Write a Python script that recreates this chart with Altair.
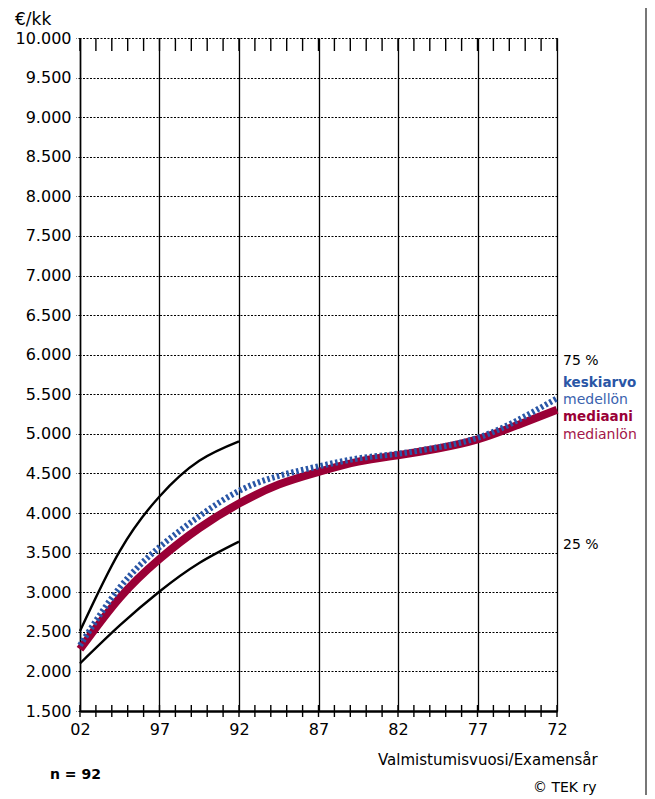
import altair as alt
import pandas as pd

# --- data ---
years_q = [2002, 1999.5, 1997, 1994.5, 1992]
q75 = [2510, 3520, 4210, 4660, 4905]
q25 = [2100, 2580, 3010, 3370, 3640]

years_m = [2002, 1999.5, 1997, 1994.5, 1992, 1989.5, 1987, 1984.5, 1982, 1979.5, 1977, 1974.5, 1972]
mean_vals = [2330, 3060, 3570, 3960, 4280, 4470, 4590, 4690, 4750, 4830, 4950, 5170, 5450]
median_vals = [2280, 2930, 3420, 3810, 4120, 4360, 4520, 4650, 4730, 4815, 4930, 5110, 5305]

major_years = [2002, 1997, 1992, 1987, 1982, 1977, 1972]
minor_years = list(range(1972, 2003))
y_ticks = list(range(1500, 10001, 500))

FONT = "DejaVu Sans"
BLUE = "#2a56a6"
RED = "#9a0036"

W, H = 477, 673

q_df = pd.DataFrame({"year": years_q, "q75": q75, "q25": q25})
m_df = pd.DataFrame({"year": years_m, "mean": mean_vals, "median": median_vals})
minor_df = pd.DataFrame({"year": minor_years})

xscale = alt.Scale(domain=[1972, 2002], reverse=True, nice=False, zero=False)
yscale = alt.Scale(domain=[1500, 10000], nice=False, zero=False)

xaxis = alt.Axis(
    values=major_years,
    tickCount=20,
    labelExpr="slice(toString(datum.value), 2)",
    title=None,
    grid=True,
    gridColor="black",
    gridWidth=1.3,
    gridOpacity=1,
    ticks=False,
    domainColor="black",
    domainWidth=2.5,
    labelFont=FONT,
    labelFontSize=16,
    labelColor="black",
    labelPadding=10,
    labelFlush=False,
    labelOverlap=False,
    labelBound=False,
)
yaxis = alt.Axis(
    values=y_ticks,
    tickCount=40,
    labelExpr="replace(format(datum.value, ','), ',', '.')",
    title=None,
    grid=True,
    gridColor="black",
    gridDash=[2, 1.5],
    gridWidth=1.2,
    gridOpacity=1,
    ticks=True,
    tickColor="black",
    tickDash=[2, 1.5],
    tickSize=4,
    domainColor="black",
    domainWidth=1.5,
    labelFont=FONT,
    labelFontSize=16,
    labelColor="black",
    labelPadding=5,
    labelFlush=False,
    labelOverlap=False,
    labelBound=False,
)

base_axes = alt.Chart(m_df).mark_line(opacity=0).encode(
    x=alt.X("year:Q", scale=xscale, axis=xaxis),
    y=alt.Y("median:Q", scale=yscale, axis=yaxis),
)

q75_line = alt.Chart(q_df).mark_line(color="black", strokeWidth=2.4, interpolate="natural").encode(
    x=alt.X("year:Q", scale=xscale), y=alt.Y("q75:Q", scale=yscale)
)
q25_line = alt.Chart(q_df).mark_line(color="black", strokeWidth=2.4, interpolate="natural").encode(
    x=alt.X("year:Q", scale=xscale), y=alt.Y("q25:Q", scale=yscale)
)
median_line = alt.Chart(m_df).mark_line(color=RED, strokeWidth=8, interpolate="natural").encode(
    x=alt.X("year:Q", scale=xscale), y=alt.Y("median:Q", scale=yscale)
)
mean_line = alt.Chart(m_df).mark_line(
    color=BLUE, strokeWidth=6, strokeDash=[2.5, 2.5], interpolate="natural"
).encode(x=alt.X("year:Q", scale=xscale), y=alt.Y("mean:Q", scale=yscale))

top_ticks = alt.Chart(minor_df).mark_rule(color="black", strokeWidth=1.4).encode(
    x=alt.X("year:Q", scale=xscale), y=alt.value(0), y2=alt.value(13)
)
bottom_ticks = alt.Chart(minor_df).mark_rule(color="black", strokeWidth=1.4).encode(
    x=alt.X("year:Q", scale=xscale), y=alt.value(H - 6), y2=alt.value(H + 6)
)


def label(txt, x, y, color="black", size=14, weight="normal", align="left"):
    return alt.Chart(pd.DataFrame({"t": [txt]})).mark_text(
        font=FONT, fontSize=size, fontWeight=weight, color=color, align=align, baseline="middle"
    ).encode(x=alt.value(x), y=alt.value(y), text="t:N")


texts = [
    label("€/kk", -65, -18, size=17),
    label("75 %", 483, 323),
    label("keskiarvo", 483, 345, color=BLUE, size=13.5, weight="bold"),
    label("medellön", 483, 362, color="#3a62ae"),
    label("mediaani", 483, 379, color=RED, size=13.5, weight="bold"),
    label("medianlön", 483, 397, color="#a3164a"),
    label("25 %", 483, 507),
    label("Valmistumisvuosi/Examensår", 298, 722, size=15),
    label("n = 92", -30, 737, weight="bold", size=14),
    label("© TEK ry", 453, 750),
]

border = alt.Chart(pd.DataFrame({"a": [0]})).mark_rule(color="#777777", strokeWidth=2).encode(
    x=alt.value(566), y=alt.value(-38), y2=alt.value(760)
)

chart = alt.layer(
    base_axes, top_ticks, bottom_ticks, q75_line, q25_line, median_line, mean_line, border, *texts
).properties(
    width=W,
    height=H,
    autosize=alt.AutoSizeParams(type="none"),
    padding={"left": 72, "top": 30, "right": 90, "bottom": 84},
).configure_view(stroke=None)

chart.save("out.html", embed_options={"renderer": "svg", "actions": False})
